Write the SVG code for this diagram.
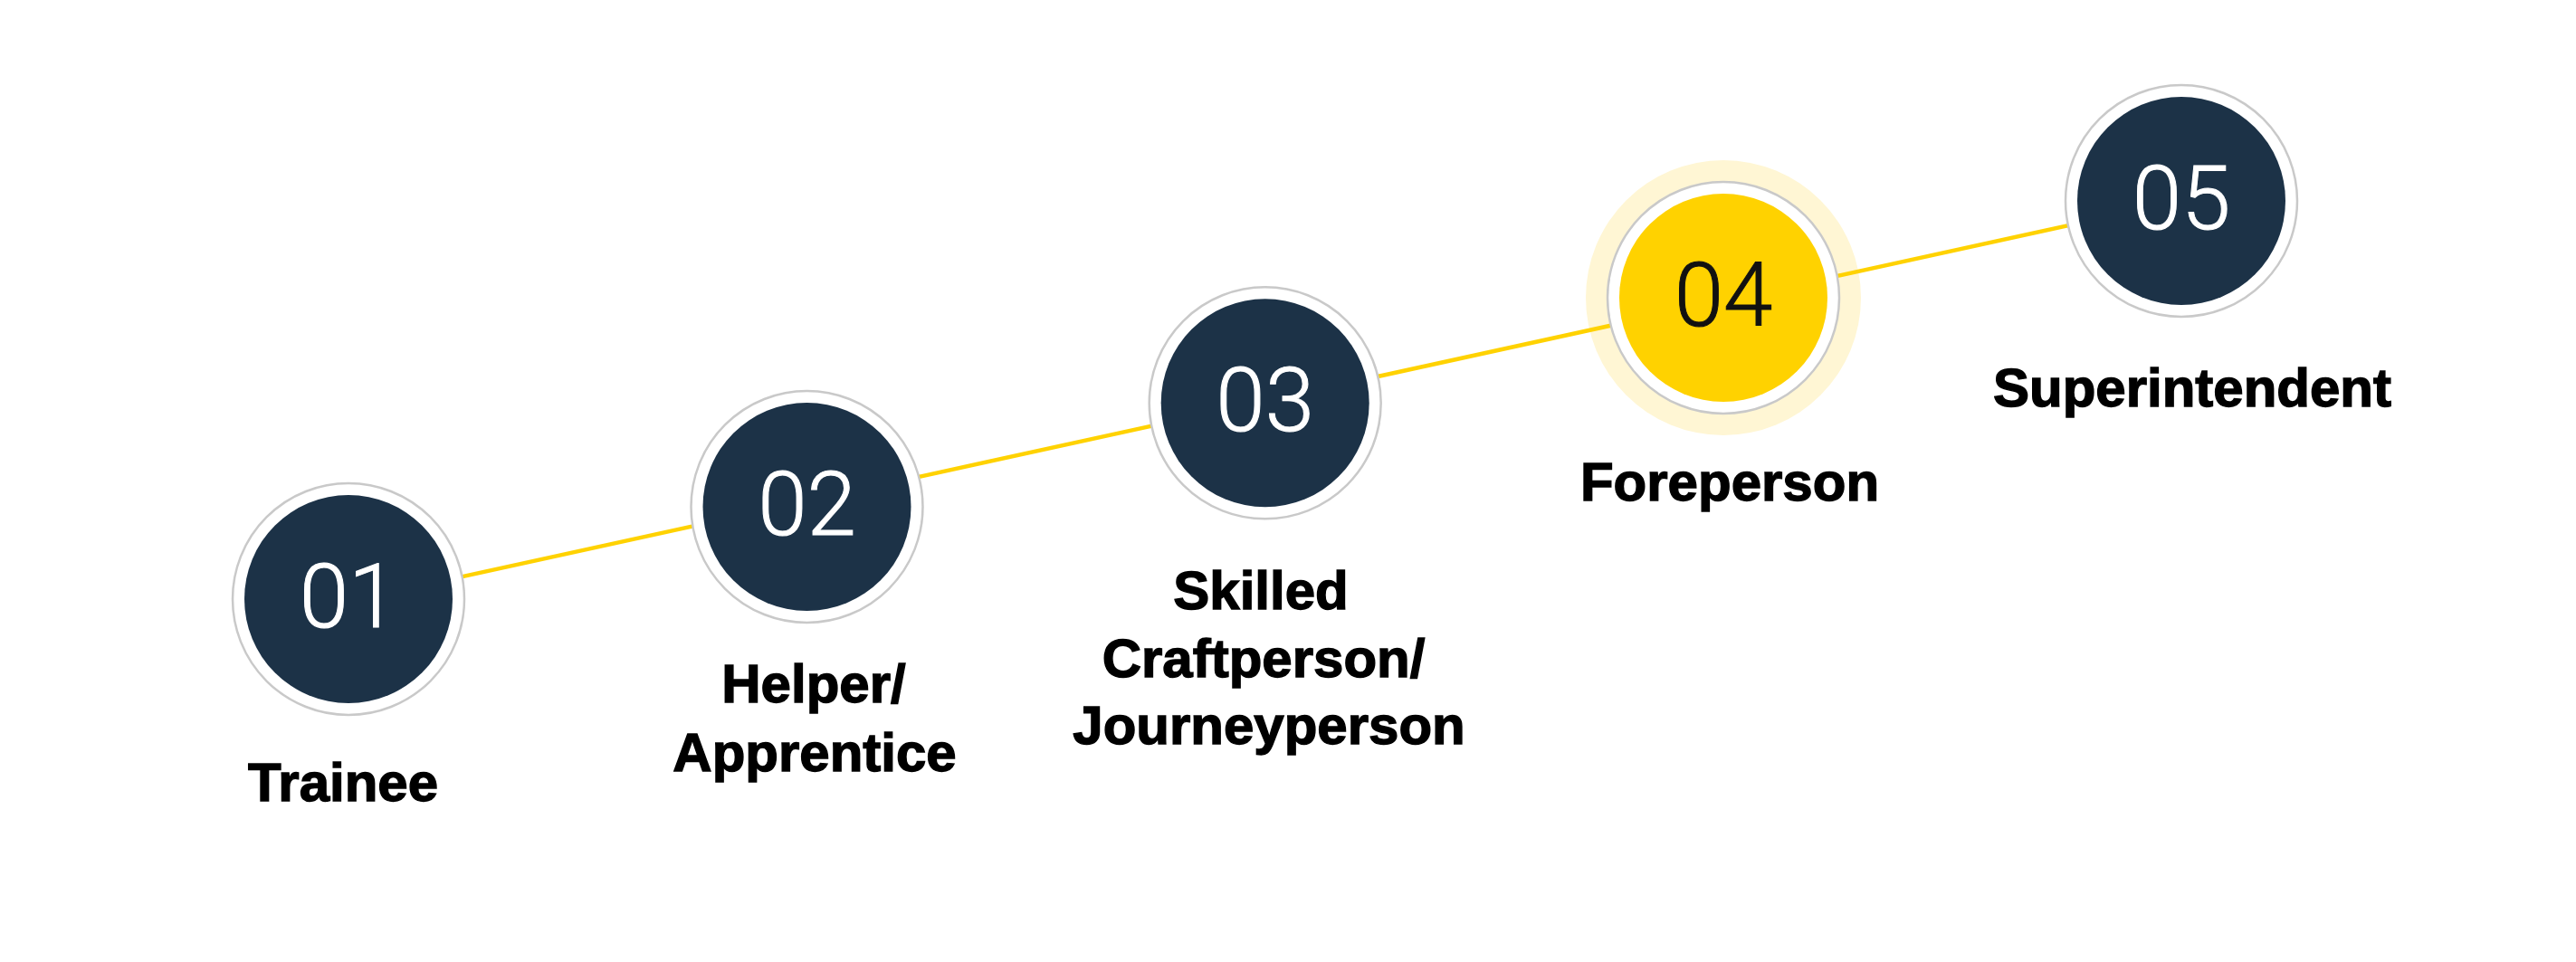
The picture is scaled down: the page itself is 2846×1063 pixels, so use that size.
<svg xmlns="http://www.w3.org/2000/svg" width="2846" height="1063" viewBox="0 0 2846 1063">
  <style>
    .ring { fill: #FFFFFF; stroke: #C9C9C9; stroke-width: 2.5; }
    .core { fill: #1C3247; }
    .core-hl { fill: #FFD200; }
    .halo { fill: #FFF6D4; }
    .num { font-family: Roboto, "Liberation Sans", sans-serif; font-weight: 300; font-size: 98px; text-anchor: middle; fill: #FFFFFF; stroke: #FFFFFF; stroke-width: 1; }
    .num-hl { fill: #111111; stroke: #111111; }
    .label { font-family: "Liberation Sans", Arial, sans-serif; font-weight: 700; font-size: 60px; text-anchor: middle; fill: #000000; stroke: #000000; stroke-width: 1.4; stroke-linejoin: miter; }
    .conn { stroke: #FFD200; stroke-width: 4.5; fill: none; }
  </style>
  <rect width="2846" height="1063" fill="#FFFFFF"/>

  <g id="node-04-halo">
    <circle class="halo" cx="1904" cy="329" r="152"/>
  </g>

  <g id="connectors">
    <line class="conn" x1="385" y1="664.7" x2="2410" y2="221.8"/>
  </g>

  <g id="node-01">
    <circle class="ring" cx="385" cy="662" r="128"/>
    <circle class="core" cx="385" cy="662" r="115"/>
    <text class="num" x="385" y="693">01</text>
    <text class="label" x="379" y="885">Trainee</text>
  </g>

  <g id="node-02">
    <circle class="ring" cx="891.5" cy="560" r="128"/>
    <circle class="core" cx="891.5" cy="560" r="115"/>
    <text class="num" x="891.5" y="591">02</text>
    <text class="label" x="899" y="776">Helper/</text>
    <text class="label" x="900" y="852">Apprentice</text>
  </g>

  <g id="node-03">
    <circle class="ring" cx="1397.7" cy="445.3" r="128"/>
    <circle class="core" cx="1397.7" cy="445.3" r="115"/>
    <text class="num" x="1397.7" y="476">03</text>
    <text class="label" x="1393" y="673">Skilled</text>
    <text class="label" x="1396" y="748">Craftperson/</text>
    <text class="label" x="1402" y="822">Journeyperson</text>
  </g>

  <g id="node-04">
    <circle class="ring" cx="1904" cy="329" r="128"/>
    <circle class="core-hl" cx="1904" cy="329" r="115"/>
    <text class="num num-hl" x="1904" y="360">04</text>
    <text class="label" x="1911" y="553">Foreperson</text>
  </g>

  <g id="node-05">
    <circle class="ring" cx="2410" cy="222" r="128"/>
    <circle class="core" cx="2410" cy="222" r="115"/>
    <text class="num" x="2410" y="253">05</text>
    <text class="label" x="2422" y="449">Superintendent</text>
  </g>
</svg>
